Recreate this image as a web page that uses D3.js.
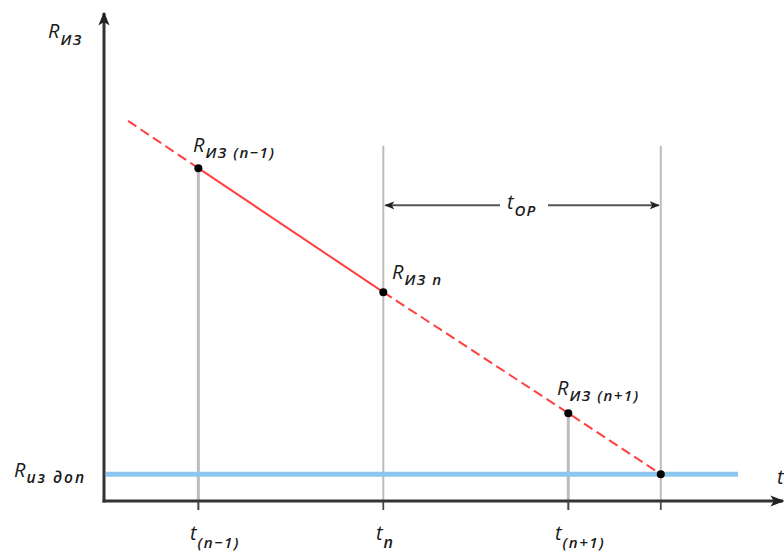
<!DOCTYPE html>
<html><head><meta charset="utf-8">
<script src="https://cdn.jsdelivr.net/npm/d3@7"></script>
<style>body{margin:0;background:#fff}svg{display:block}text{font-family:"Open Sans",sans-serif;font-style:italic;fill:#1a1a1a}</style>
</head><body><svg id="c" width="784" height="553"></svg>
<script>
// data
const tKeys = ["t(n-1)", "t(n)", "t(n+1)", "t(end)"];
const tValues = [1, 2, 3, 3.5];
const rValues = [68.2, 42.8, 18.0, 5.5];
const rDop = 5.5;
const lineStart = [0.62, 77.9];
const guideTop = 72.8; // top of guide lines at t(n) and t(end)
const opArrowLevel = 60.6;

const svg = d3.select("#c");
const x = d3.scaleLinear().domain([0.49, 4.55]).range([104, 855]);
const y = d3.scaleLinear().domain([0, 100]).range([501, 13]);
const X0 = x(0.49), Y0 = y(0);

const defs = svg.append("defs");
function marker(id, size, color){
  defs.append("marker").attr("id", id).attr("viewBox","0 0 10 10").attr("refX",9).attr("refY",5)
    .attr("markerWidth",size).attr("markerHeight",size).attr("markerUnits","userSpaceOnUse").attr("orient","auto-start-reverse")
    .append("path").attr("d","M0,1 L10,5 L0,9 L2.5,5 Z").attr("fill",color);
}
marker("ax", 14, "#222");
marker("sm", 10, "#222");

// gray guide lines
const guideTops = [rValues[0], guideTop, rValues[2], guideTop];
svg.append("g").selectAll("line").data(tValues).join("line")
  .attr("x1", d=>x(d)).attr("x2", d=>x(d))
  .attr("y1", (d,i)=>y(guideTops[i])).attr("y2", Y0+9)
  .attr("stroke", "#bcbcc0").attr("stroke-width", (d,i)=> i%2===0 ? 3 : 2);

// blue Rdop line
svg.append("line").attr("x1", X0+2).attr("x2", 738).attr("y1", y(rDop)).attr("y2", y(rDop))
  .attr("stroke", "#8fc6ef").attr("stroke-width", 5);

// red line segments
const line = d3.line().x(d=>x(d[0])).y(d=>y(d[1]));
svg.append("path").attr("d", line([lineStart, [tValues[0], rValues[0]]]))
  .attr("stroke", "#ff4040").attr("stroke-width", 2).attr("fill","none").attr("stroke-dasharray","10,5");
svg.append("path").attr("d", line([[tValues[0], rValues[0]], [tValues[1], rValues[1]]]))
  .attr("stroke", "#ff4040").attr("stroke-width", 2).attr("fill","none");
svg.append("path").attr("d", line([[tValues[1], rValues[1]], [tValues[2], rValues[2]], [tValues[3], rValues[3]]]))
  .attr("stroke", "#ff4040").attr("stroke-width", 2).attr("fill","none").attr("stroke-dasharray","10,5");

// axes
svg.append("line").attr("x1", X0).attr("x2", X0).attr("y1", Y0+1.5).attr("y2", 13)
  .attr("stroke","#333").attr("stroke-width",3).attr("marker-end","url(#ax)");
svg.append("line").attr("x1", X0-1.5).attr("x2", 783).attr("y1", Y0).attr("y2", Y0)
  .attr("stroke","#333").attr("stroke-width",3).attr("marker-end","url(#ax)");
// tick marks
svg.append("g").selectAll("line").data(tValues).join("line")
  .attr("x1", d=>x(d)).attr("x2", d=>x(d)).attr("y1", Y0).attr("y2", Y0+9)
  .attr("stroke","#444").attr("stroke-width",1.5);

// points
svg.append("g").selectAll("circle").data(tValues).join("circle")
  .attr("cx", d=>x(d)).attr("cy", (d,i)=>y(rValues[i])).attr("r", 4).attr("fill","#000");

// t_OP arrow
const ay = y(opArrowLevel);
svg.append("line").attr("x1", x(tValues[1])+2).attr("x2", 500).attr("y1", ay).attr("y2", ay)
  .attr("stroke","#555").attr("stroke-width",2).attr("marker-start","url(#sm)");
svg.append("line").attr("x1", 548).attr("x2", x(tValues[3])-2).attr("y1", ay).attr("y2", ay)
  .attr("stroke","#555").attr("stroke-width",2).attr("marker-end","url(#sm)");

// labels
function label(xp, yp, main, sub, subSize, dy, ls){
  const t = svg.append("text").attr("x", xp).attr("y", yp).attr("font-size", 20);
  t.append("tspan").text(main);
  t.append("tspan").attr("dy", dy).attr("dx", 1).attr("font-size", subSize).attr("font-weight", 600)
    .attr("letter-spacing", ls).text(sub);
}
label(48, 38, "R", "ИЗ", 15, 7, 1.5);
label(193, 152, "R", "ИЗ (n−1)", 15, 6, 1.5);
label(392, 279, "R", "ИЗ n", 15, 6, 1.5);
label(557, 395, "R", "ИЗ (n+1)", 15, 6, 1.5);
label(14, 477, "R", "из доп", 15.5, 6, 2);
label(507, 209, "t", "OP", 15, 7, 1);
label(190, 540, "t", "(n−1)", 15, 8, 1.5);
label(376, 540, "t", "n", 16, 8, 1);
label(555, 540, "t", "(n+1)", 15, 8, 1.5);
label(777, 484, "t", "", 13, 0, 0);
</script></body></html>
